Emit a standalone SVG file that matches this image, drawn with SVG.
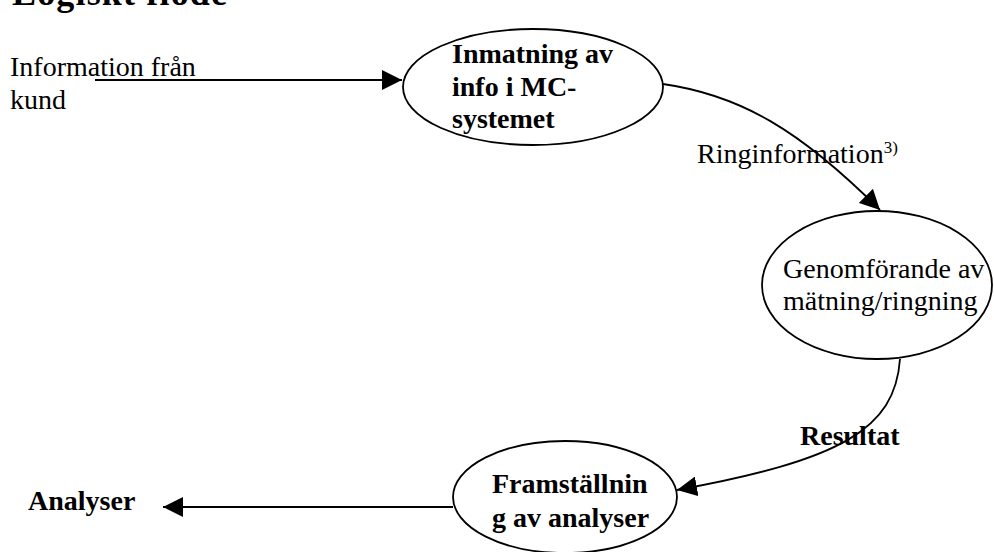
<svg xmlns="http://www.w3.org/2000/svg" width="994" height="552" viewBox="0 0 994 552">
  <style>
    text { font-family: "Liberation Serif", "Times New Roman", serif; font-size: 28px; fill: #000; }
    .b { font-weight: bold; }
    .title { font-size: 36px; }
    .sup { font-size: 17px; }
    .node { fill: #fff; stroke: #000; stroke-width: 1.8; }
    .edge { fill: none; stroke: #000; stroke-width: 1.8; }
  </style>
  <defs>
    <marker id="arrow" viewBox="0 0 20 20" refX="20" refY="10" markerWidth="20" markerHeight="20" markerUnits="userSpaceOnUse" orient="auto">
      <path d="M0,0 L20,10 L0,20 Z" fill="#000"/>
    </marker>
  </defs>
  <rect width="994" height="552" fill="#fff"/>

  <!-- heading, running off the top of the page -->
  <text id="heading" class="b title" x="12" y="5" textLength="215" lengthAdjust="spacing">Logiskt flöde</text>

  <!-- nodes -->
  <g id="node-inmatning">
    <ellipse class="node" cx="533" cy="87" rx="130" ry="58"/>
    <text class="b" x="452" y="63">Inmatning av</text>
    <text class="b" x="452" y="96">info i MC-</text>
    <text class="b" x="452" y="128">systemet</text>
  </g>

  <g id="node-genomforande">
    <ellipse class="node" cx="877" cy="285" rx="115" ry="74"/>
    <text x="783" y="278">Genomförande av</text>
    <text x="783" y="310">mätning/ringning</text>
  </g>

  <g id="node-framstallning">
    <ellipse class="node" cx="565" cy="497" rx="112" ry="56"/>
    <text class="b" x="492" y="493">Framställnin</text>
    <text class="b" x="492" y="527">g av analyser</text>
  </g>

  <!-- connectors -->
  <g id="connectors">
    <line class="edge" x1="95" y1="80" x2="402" y2="80" marker-end="url(#arrow)"/>
    <path class="edge" d="M663,84 C740,95 800,130 880,210" marker-end="url(#arrow)"/>
    <path class="edge" d="M900,359 C895,430 840,460 677,490" marker-end="url(#arrow)"/>
    <line class="edge" x1="453" y1="507" x2="163" y2="507" marker-end="url(#arrow)"/>
  </g>

  <!-- free labels -->
  <g id="labels">
    <text x="10" y="76">Information från</text>
    <text x="10" y="109">kund</text>
    <text x="697" y="163">Ringinformation<tspan class="sup" dy="-10">3)</tspan></text>
    <text class="b" x="800" y="445">Resultat</text>
    <text class="b" x="28" y="510">Analyser</text>
  </g>
</svg>
